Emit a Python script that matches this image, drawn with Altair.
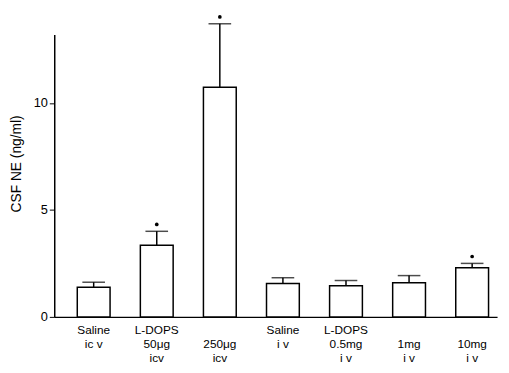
import altair as alt
import pandas as pd

categories = ["Saline\nic v", "L-DOPS\n50μg\nicv", "\n250μg\nicv", "Saline\ni v",
              "L-DOPS\n0.5mg\ni v", "\n1mg\ni v", "\n10mg\ni v"]
means = [1.38, 3.35, 10.73, 1.56, 1.45, 1.6, 2.3]
upper = [1.62, 4.0, 13.7, 1.83, 1.7, 1.93, 2.5]
significant = [False, True, True, False, False, False, True]

df = pd.DataFrame({"cat": categories, "mean": means, "upper": upper, "sig": significant})

FONT = "Liberation Sans"

x = alt.X("cat:N", sort=categories,
          scale=alt.Scale(paddingInner=0.48, paddingOuter=0.25, align=0.73),
          axis=alt.Axis(title=None, labelAngle=0, ticks=False, domainColor="black",
                        domainWidth=1.5, labelExpr="split(datum.label, '\\n')",
                        labelFontSize=12, labelLineHeight=14, labelPadding=8,
                        labelColor="black", labelFont=FONT))
y = alt.Y("mean:Q", scale=alt.Scale(domain=[0, 13.2], nice=False),
          axis=alt.Axis(title="CSF NE (ng/ml)", values=[0, 5, 10], grid=False,
                        tickSize=5, tickColor="black", domainColor="black",
                        domainWidth=1.5, labelFontSize=13, labelColor="black",
                        labelFont=FONT, titleFont=FONT, titleFontSize=14,
                        titleFontWeight="normal", titleColor="black", titlePadding=10,
                        titleY=131))

base = alt.Chart(df)
bars = base.mark_bar(fill="white", stroke="black", strokeWidth=1.5).encode(x=x, y=y)
rules = base.mark_rule(color="black", strokeWidth=1.5).encode(
    x=alt.X("cat:N", sort=categories), y="mean:Q", y2="upper:Q")
caps = base.mark_tick(color="black", thickness=1.5, size=23, orient="horizontal").encode(
    x=alt.X("cat:N", sort=categories), y="upper:Q")
dots = base.transform_filter("datum.sig").mark_circle(
    color="black", size=14, opacity=1, yOffset=-7).encode(
    x=alt.X("cat:N", sort=categories), y="upper:Q")

chart = alt.layer(bars, rules, caps, dots).properties(
    width=450, height=287,
    background="white",
    autosize=alt.AutoSizeParams(type="none"),
    padding={"left": 47, "top": 24, "right": 4, "bottom": 46},
).configure_view(stroke=None)

chart.save("out.html", embed_options={"renderer": "svg", "actions": False})
